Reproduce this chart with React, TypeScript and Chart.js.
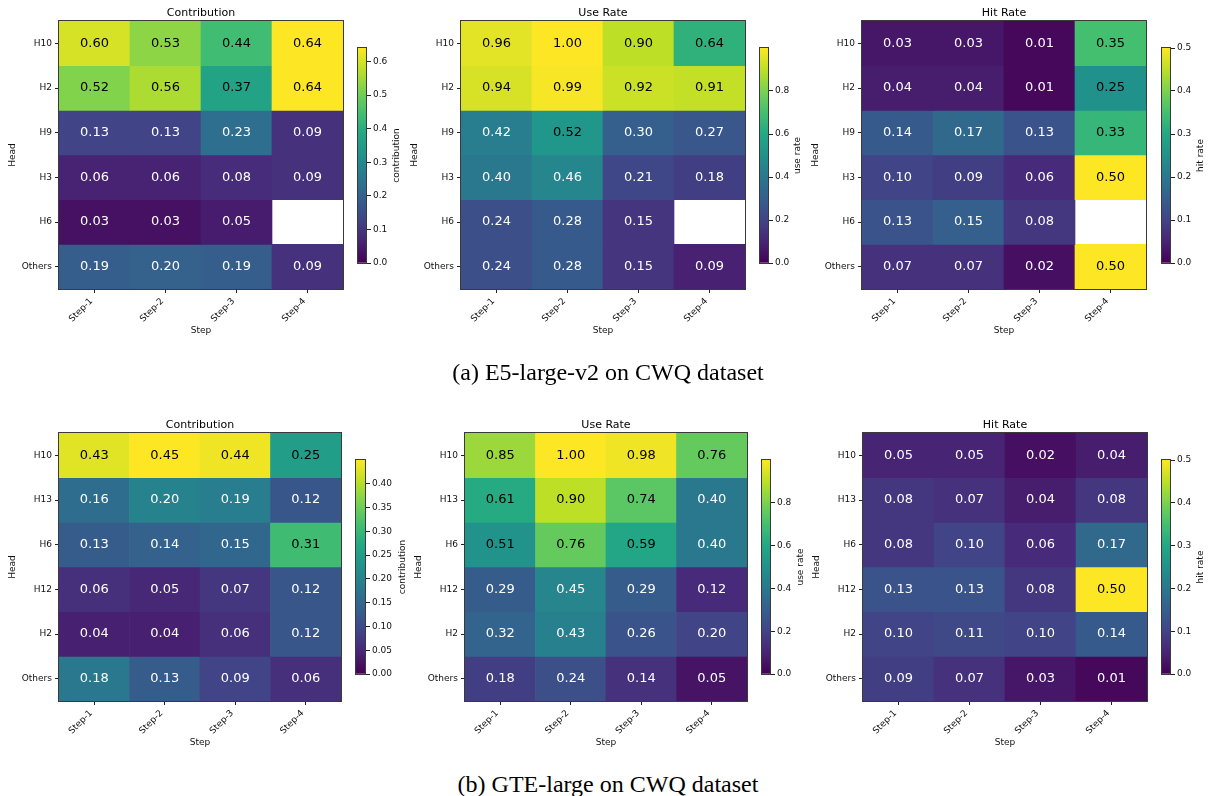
import React, { useEffect, useRef } from 'react';
import { Chart, registerables } from 'chart.js';

Chart.register(...registerables);

const FONT = '"DejaVu Sans", sans-serif';

// ---------- data ----------
const steps = ['Step-1', 'Step-2', 'Step-3', 'Step-4'];
const headsE5 = ['H10', 'H2', 'H9', 'H3', 'H6', 'Others'];
const headsGTE = ['H10', 'H13', 'H6', 'H12', 'H2', 'Others'];

const contributionE5: (number | null)[][] = [
  [0.60, 0.53, 0.44, 0.64],
  [0.52, 0.56, 0.37, 0.64],
  [0.13, 0.13, 0.23, 0.09],
  [0.06, 0.06, 0.08, 0.09],
  [0.03, 0.03, 0.05, null],
  [0.19, 0.20, 0.19, 0.09],
];
const useRateE5: (number | null)[][] = [
  [0.96, 1.00, 0.90, 0.64],
  [0.94, 0.99, 0.92, 0.91],
  [0.42, 0.52, 0.30, 0.27],
  [0.40, 0.46, 0.21, 0.18],
  [0.24, 0.28, 0.15, null],
  [0.24, 0.28, 0.15, 0.09],
];
const hitRateE5: (number | null)[][] = [
  [0.03, 0.03, 0.01, 0.35],
  [0.04, 0.04, 0.01, 0.25],
  [0.14, 0.17, 0.13, 0.33],
  [0.10, 0.09, 0.06, 0.50],
  [0.13, 0.15, 0.08, null],
  [0.07, 0.07, 0.02, 0.50],
];
const contributionGTE: (number | null)[][] = [
  [0.43, 0.45, 0.44, 0.25],
  [0.16, 0.20, 0.19, 0.12],
  [0.13, 0.14, 0.15, 0.31],
  [0.06, 0.05, 0.07, 0.12],
  [0.04, 0.04, 0.06, 0.12],
  [0.18, 0.13, 0.09, 0.06],
];
const useRateGTE: (number | null)[][] = [
  [0.85, 1.00, 0.98, 0.76],
  [0.61, 0.90, 0.74, 0.40],
  [0.51, 0.76, 0.59, 0.40],
  [0.29, 0.45, 0.29, 0.12],
  [0.32, 0.43, 0.26, 0.20],
  [0.18, 0.24, 0.14, 0.05],
];
const hitRateGTE: (number | null)[][] = [
  [0.05, 0.05, 0.02, 0.04],
  [0.08, 0.07, 0.04, 0.08],
  [0.08, 0.10, 0.06, 0.17],
  [0.13, 0.13, 0.08, 0.50],
  [0.10, 0.11, 0.10, 0.14],
  [0.09, 0.07, 0.03, 0.01],
];

const ticksContributionE5 = [0, 0.1, 0.2, 0.3, 0.4, 0.5, 0.6];
const ticksContributionGTE = [0, 0.05, 0.1, 0.15, 0.2, 0.25, 0.3, 0.35, 0.4];
const ticksUseRate = [0, 0.2, 0.4, 0.6, 0.8];
const ticksHitRate = [0, 0.1, 0.2, 0.3, 0.4, 0.5];

const captionA = '(a) E5-large-v2 on CWQ dataset';
const captionB = '(b) GTE-large on CWQ dataset';

// ---------- colormap ----------
const VIRIDIS = ['#440154', '#482475', '#414487', '#355f8d', '#2a788e', '#21918c', '#22a884', '#44bf70', '#7ad151', '#bddf26', '#fde725'];
function hexToRgb(h: string) {
  return [parseInt(h.slice(1, 3), 16), parseInt(h.slice(3, 5), 16), parseInt(h.slice(5, 7), 16)];
}
function viridis(t: number) {
  const c = Math.max(0, Math.min(1, t));
  const n = VIRIDIS.length - 1;
  const i = Math.min(Math.floor(c * n), n - 1);
  const f = c * n - i;
  const a = hexToRgb(VIRIDIS[i]);
  const b = hexToRgb(VIRIDIS[i + 1]);
  const m = a.map((v, k) => Math.round(v + (b[k] - v) * f));
  return `rgb(${m[0]},${m[1]},${m[2]})`;
}

// ---------- panel ----------
type PanelProps = {
  title: string;
  cbLabel: string;
  heads: string[];
  values: (number | null)[][];
  cbTicks: number[];
  decimals: number;
  hx0: number;
  hx1: number;
  hy0: number;
  cbx0: number;
  cbx1: number;
  cby0: number;
  cby1: number;
  labelX: number;
};

const AXW = 59;
const PADR = 7;
const PADT = 21;
const AXH = 51;
const HH = 268;
const CBAX = 40;
const CBPAD = 10;

function Panel(p: PanelProps) {
  const heatRef = useRef<HTMLCanvasElement>(null);
  const cbRef = useRef<HTMLCanvasElement>(null);
  const HW = p.hx1 - p.hx0;
  const heatW = HW + AXW + PADR;
  const heatH = HH + PADT + AXH;
  const cbW = p.cbx1 - p.cbx0 + CBAX;
  const cbH = p.cby1 - p.cby0 + 2 * CBPAD;

  useEffect(() => {
    const flat = p.values.flat().filter((v) => v != null) as number[];
    const vmax = Math.max(...flat);
    const tickFont = { family: FONT, size: 9 };

    const heatPlugin = {
      id: 'heatAnno',
      afterDatasetsDraw(chart: any) {
        const { ctx, chartArea: ca, scales } = chart;
        const xs = scales.x;
        const ys = scales.y;
        ctx.save();
        ctx.font = `13px ${FONT}`;
        ctx.textAlign = 'center';
        ctx.textBaseline = 'middle';
        p.values.forEach((row, r) =>
          row.forEach((v, j) => {
            if (v == null) return;
            ctx.fillStyle = v / vmax >= 0.5 ? '#000' : '#fff';
            ctx.fillText(v.toFixed(2), xs.getPixelForValue(j), ys.getPixelForValue(r + 0.5));
          })
        );
        ctx.strokeStyle = '#3a3a3a';
        ctx.lineWidth = 1;
        ctx.strokeRect(ca.left - 0.5, ca.top - 0.5, ca.right - ca.left + 1, ca.bottom - ca.top + 1);
        ctx.font = `11px ${FONT}`;
        ctx.fillStyle = '#000';
        ctx.textBaseline = 'alphabetic';
        ctx.fillText(p.title, (ca.left + ca.right) / 2, ca.top - 5);
        ctx.restore();
      },
    };

    const heat = new Chart(heatRef.current as HTMLCanvasElement, {
      type: 'bar',
      data: {
        labels: steps,
        datasets: p.heads.map((h, r) => ({
          label: h,
          data: p.values[r].map((v) => (v == null ? null : [r, r + 1])) as any,
          backgroundColor: p.values[r].map((v) => (v == null ? 'rgba(0,0,0,0)' : viridis(v / vmax))),
          grouped: false,
          barPercentage: 1,
          categoryPercentage: 1,
          borderWidth: 0,
          xAxisID: 'x',
          yAxisID: 'y',
        })),
      },
      options: {
        animation: false,
        responsive: false,
        maintainAspectRatio: false,
        events: [],
        layout: { padding: { left: 0, top: PADT, right: PADR, bottom: 0 } },
        plugins: { legend: { display: false }, tooltip: { enabled: false }, title: { display: false } },
        scales: {
          x: {
            type: 'category',
            offset: true,
            grid: { offset: false, drawOnChartArea: false, drawTicks: true, tickLength: 4, color: '#222' },
            border: { display: false },
            ticks: { minRotation: 45, maxRotation: 45, autoSkip: false, padding: 3, labelOffset: -3, color: '#111', font: tickFont },
            title: { display: true, text: 'Step', color: '#111', font: tickFont, padding: { top: 0, bottom: 3.5 } },
            afterFit: (s: any) => {
              s.height = AXH;
            },
          },
          y: { type: 'linear', display: false, min: 0, max: p.heads.length, reverse: true },
          yh: {
            type: 'category',
            axis: 'y',
            position: 'left',
            labels: p.heads,
            offset: true,
            grid: { offset: false, drawOnChartArea: false, drawTicks: true, tickLength: 4, color: '#222' },
            border: { display: false },
            ticks: { autoSkip: false, padding: 3, color: '#111', font: tickFont },
            title: { display: true, text: 'Head', color: '#111', font: tickFont, padding: { top: 7.5, bottom: 0 } },
            afterFit: (s: any) => {
              s.width = AXW;
            },
          },
        } as any,
      },
      plugins: [heatPlugin],
    });

    const labelOff = p.labelX - p.cbx1;
    const cbPlugin = {
      id: 'cbFrame',
      afterDatasetsDraw(chart: any) {
        const { ctx, chartArea: ca } = chart;
        ctx.save();
        ctx.strokeStyle = '#3a3a3a';
        ctx.lineWidth = 1;
        ctx.strokeRect(ca.left + 0.5, ca.top - 0.5, ca.right - ca.left - 1, ca.bottom - ca.top + 1);
        ctx.translate(ca.right + labelOff, (ca.top + ca.bottom) / 2);
        ctx.rotate(-Math.PI / 2);
        ctx.font = `9px ${FONT}`;
        ctx.fillStyle = '#111';
        ctx.textAlign = 'center';
        ctx.textBaseline = 'middle';
        ctx.fillText(p.cbLabel, 0, 0);
        ctx.restore();
      },
    };

    const cb = new Chart(cbRef.current as HTMLCanvasElement, {
      type: 'bar',
      data: {
        labels: [p.cbLabel],
        datasets: [
          {
            data: [vmax],
            backgroundColor: (c: any) => {
              const ca = c.chart.chartArea;
              if (!ca) return 'rgba(0,0,0,0)';
              const g = c.chart.ctx.createLinearGradient(0, ca.bottom, 0, ca.top);
              VIRIDIS.forEach((col, i) => g.addColorStop(i / (VIRIDIS.length - 1), col));
              return g;
            },
            barPercentage: 1,
            categoryPercentage: 1,
            borderWidth: 0,
          },
        ],
      },
      options: {
        animation: false,
        responsive: false,
        maintainAspectRatio: false,
        events: [],
        layout: { padding: { left: 0, top: CBPAD, right: 0, bottom: CBPAD } },
        plugins: { legend: { display: false }, tooltip: { enabled: false }, title: { display: false } },
        scales: {
          x: { display: false },
          y: {
            position: 'right',
            min: 0,
            max: vmax,
            afterBuildTicks: (s: any) => {
              s.ticks = p.cbTicks.map((v) => ({ value: v }));
            },
            ticks: {
              padding: 2,
              color: '#111',
              font: tickFont,
              callback: (v: any) => Number(v).toFixed(p.decimals),
            },
            grid: { drawOnChartArea: false, drawTicks: true, tickLength: 4, color: '#222' },
            border: { display: false },
            afterFit: (s: any) => {
              s.width = CBAX;
            },
          },
        } as any,
      },
      plugins: [cbPlugin],
    });

    return () => {
      heat.destroy();
      cb.destroy();
    };
  }, []);

  return (
    <>
      <canvas
        ref={heatRef}
        width={heatW}
        height={heatH}
        style={{ position: 'absolute', left: p.hx0 - AXW, top: p.hy0 - PADT, width: heatW, height: heatH }}
      />
      <canvas
        ref={cbRef}
        width={cbW}
        height={cbH}
        style={{ position: 'absolute', left: p.cbx0, top: p.cby0 - CBPAD, width: cbW, height: cbH }}
      />
    </>
  );
}

const captionStyle: React.CSSProperties = {
  position: 'absolute',
  left: 408,
  width: 400,
  textAlign: 'center',
  fontFamily: '"Liberation Serif", "Times New Roman", serif',
  fontSize: 24,
  lineHeight: '24px',
  color: '#000',
  whiteSpace: 'nowrap',
};

export default function App() {
  return (
    <div
      style={{ position: 'absolute', left: 0, top: 0, width: 1208, height: 796, overflow: 'hidden', background: '#fff' }}
    >
      <Panel title="Contribution" cbLabel="contribution" heads={headsE5} values={contributionE5} cbTicks={ticksContributionE5} decimals={1}
        hx0={59} hx1={343} hy0={21} cbx0={357} cbx1={367} cby0={48} cby1={263} labelX={397} />
      <Panel title="Use Rate" cbLabel="use rate" heads={headsE5} values={useRateE5} cbTicks={ticksUseRate} decimals={1}
        hx0={461} hx1={745} hy0={21} cbx0={759} cbx1={769} cby0={48} cby1={263} labelX={798} />
      <Panel title="Hit Rate" cbLabel="hit rate" heads={headsE5} values={hitRateE5} cbTicks={ticksHitRate} decimals={1}
        hx0={862} hx1={1146} hy0={21} cbx0={1161} cbx1={1171} cby0={48} cby1={263} labelX={1201} />
      <div style={{ ...captionStyle, top: 360 }}>{captionA}</div>

      <Panel title="Contribution" cbLabel="contribution" heads={headsGTE} values={contributionGTE} cbTicks={ticksContributionGTE} decimals={2}
        hx0={59} hx1={341} hy0={433} cbx0={355} cbx1={366} cby0={460} cby1={674} labelX={403} />
      <Panel title="Use Rate" cbLabel="use rate" heads={headsGTE} values={useRateGTE} cbTicks={ticksUseRate} decimals={1}
        hx0={465} hx1={747} hy0={433} cbx0={761} cbx1={771} cby0={460} cby1={674} labelX={801} />
      <Panel title="Hit Rate" cbLabel="hit rate" heads={headsGTE} values={hitRateGTE} cbTicks={ticksHitRate} decimals={1}
        hx0={863} hx1={1147} hy0={433} cbx0={1161} cbx1={1171} cby0={460} cby1={674} labelX={1201} />
      <div style={{ ...captionStyle, top: 772 }}>{captionB}</div>
    </div>
  );
}
